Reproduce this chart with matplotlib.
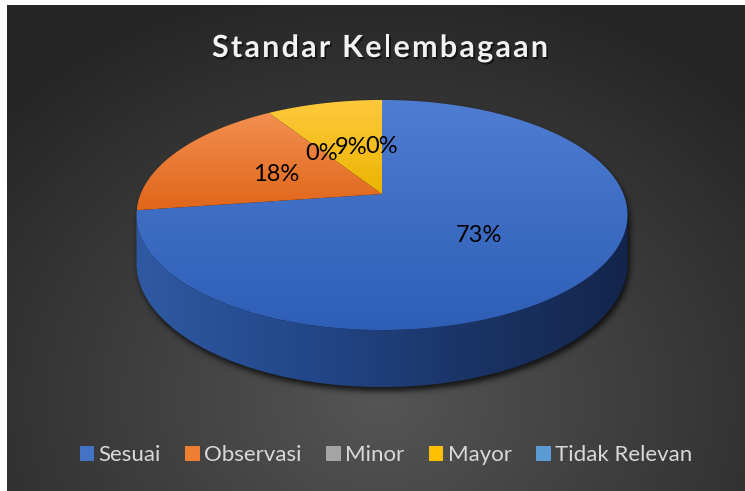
import numpy as np
import matplotlib
matplotlib.use("Agg")
import matplotlib.pyplot as plt
import matplotlib.patheffects as pe
from matplotlib.patches import Polygon, Patch
from matplotlib.path import Path
from matplotlib.textpath import TextToPath
from matplotlib.font_manager import FontProperties

title = "Standar Kelembagaan"
categories = ["Sesuai", "Observasi", "Minor", "Mayor", "Tidak Relevan"]
counts = [8, 2, 0, 1, 0]
base_colors = ["#4472C4", "#ED7D31", "#A5A5A5", "#FFC000", "#5B9BD5"]
# (light, dark) pairs for the top face of each slice
face_grads = [("#4E7DD1", "#2E5EB6"), ("#F38F50", "#E0661A"),
              ("#B5B5B5", "#909090"), ("#FFC93E", "#ECB400"),
              ("#6BA6DC", "#4A88C6")]

W, H = 745, 491
fig = plt.figure(figsize=(W / 100, H / 100), dpi=100, facecolor="white")
ax = fig.add_axes([0, 0, 1, 1])
ax.axis("off")

# ---- background: dark radial gradient ----
X0, Y0 = 7, 5
gx, gy = np.meshgrid(np.arange(X0, W) + 0.5, np.arange(Y0, H) + 0.5)
rr = np.sqrt(((gx - 380) / 520) ** 2 + ((gy - 400) / 430) ** 2)
rr = np.clip(rr, 0, 1)
c_in, c_out = np.array([0x55, 0x55, 0x55]) / 255, np.array([0x25, 0x25, 0x25]) / 255
bg = c_in[None, None, :] * (1 - rr[..., None]) + c_out[None, None, :] * rr[..., None]
ax.imshow(bg, extent=(X0, W, H, Y0), zorder=0, aspect="auto", interpolation="bilinear")

# ---- perspective projection of the pie disc ----
CX, CY = 382, 194
A, B, K = 111.2, 241.4, 0.1826
DEPTH = 57


def project(t, r=1.0, drop=0.0):
    u = r * np.sin(t)
    v = r * np.cos(t)
    w = 1 + K * v
    return CX + B * u / w, CY - A * v / w + drop * (1 - K) / w


def hex_rgb(c):
    c = c.lstrip("#")
    return np.array([int(c[i:i + 2], 16) for i in (0, 2, 4)]) / 255


def gradient(patch, stops, horizontal=False, z=2):
    ax.add_patch(patch)
    verts = patch.get_xy()
    x0, x1 = verts[:, 0].min(), verts[:, 0].max()
    y0, y1 = verts[:, 1].min(), verts[:, 1].max()
    n = 256
    pos = np.linspace(0, 1, n)
    sp = np.linspace(0, 1, len(stops))
    cols = np.array([hex_rgb(s) for s in stops])
    arr = np.stack([np.interp(pos, sp, cols[:, k]) for k in range(3)], axis=-1)
    img = arr[None, :, :] if horizontal else arr[:, None, :]
    im = ax.imshow(img, extent=(x0, x1, y1, y0), zorder=z, aspect="auto",
                   interpolation="bilinear")
    im.set_clip_path(patch)


fracs = np.array(counts, dtype=float) / sum(counts)
starts = np.concatenate([[0], np.cumsum(fracs)[:-1]]) * 2 * np.pi
ends = np.cumsum(fracs) * 2 * np.pi

# front rim (visible side wall)
tt = np.linspace(0, 2 * np.pi, 721)
ux, uy = project(tt)
left_t = tt[np.argmin(ux)]
right_t = tt[np.argmax(ux)]
front = np.linspace(right_t, left_t, 300)
fx, fy = project(front)
bx, by = project(front, drop=DEPTH)
side_pts = np.column_stack([np.r_[fx, bx[::-1]], np.r_[fy, by[::-1]]])

# soft shadow under the pie
top_path = Path(np.column_stack([ux, uy]))
side_path = Path(side_pts)
px, py = np.meshgrid(np.arange(W) + 0.5 - 2, np.arange(H) + 0.5 - 4)
pts = np.column_stack([px.ravel(), py.ravel()])
mask = (top_path.contains_points(pts) | side_path.contains_points(pts)).reshape(H, W).astype(float)
ks = np.arange(-9, 10)
kern = np.exp(-ks ** 2 / (2 * 3.0 ** 2))
kern /= kern.sum()
mask = np.apply_along_axis(lambda m: np.convolve(m, kern, mode="same"), 1, mask)
mask = np.apply_along_axis(lambda m: np.convolve(m, kern, mode="same"), 0, mask)
shadow = np.zeros((H, W, 4))
shadow[..., 3] = mask * 0.75
ax.imshow(shadow, extent=(0, W, H, 0), zorder=1, aspect="auto")

# side wall, only the first slice faces the viewer
gradient(Polygon(side_pts, closed=True, facecolor="none", edgecolor="none"),
         ["#2F5AA3", "#23488A", "#1B3467", "#13254C"], horizontal=True, z=2)

# top face slices
for i, (s, e) in enumerate(zip(starts, ends)):
    if e - s <= 0:
        continue
    arc = np.linspace(s, e, max(int((e - s) / np.pi * 180), 2))
    ax_, ay_ = project(arc)
    poly = np.column_stack([np.r_[CX, ax_], np.r_[CY, ay_]])
    gradient(Polygon(poly, closed=True, facecolor="none", edgecolor="none"),
             list(face_grads[i]), z=3)

# percentage labels
for i, (s, e) in enumerate(zip(starts, ends)):
    lx, ly = project((s + e) / 2, r=0.5)
    ax.text(lx, ly + 3, f"{fracs[i] * 100:.0f}%", ha="center", va="center",
            fontsize=17, family="Lato", color="black", zorder=5)

# title with letter spacing
fp = FontProperties(family="Lato", weight="bold", size=22)
t2p = TextToPath()


def advance(ch):
    w1 = t2p.get_text_width_height_descent("H" + ch + "H", fp, ismath=False)[0]
    w0 = t2p.get_text_width_height_descent("HH", fp, ismath=False)[0]
    return (w1 - w0) * 100 / 72


spacing = 2.2
advs = [advance(c) for c in title]
total = sum(advs) + spacing * (len(title) - 1)
xpos = 380 - total / 2
for ch, a in zip(title, advs):
    if ch != " ":
        ax.text(xpos, 57, ch, ha="left", va="baseline", fontproperties=fp,
                color="#F2F2F2", zorder=5,
                path_effects=[pe.withSimplePatchShadow(offset=(1.2, -1.5),
                                                       shadow_rgbFace="black",
                                                       alpha=0.55)])
    xpos += a + spacing

# legend
handles = [Patch(facecolor=c, edgecolor="none") for c in base_colors]
ax.legend(handles, categories, loc="center", bbox_to_anchor=(386 / W, 1 - 455 / H),
          ncol=5, frameon=False, prop=FontProperties(family="Lato", size=16),
          labelcolor="#D9D9D9", handlelength=0.65, handleheight=0.65,
          handletextpad=0.2, columnspacing=1.1)

ax.set_xlim(0, W)
ax.set_ylim(H, 0)
fig.savefig("out.png", dpi=100, facecolor="white")
